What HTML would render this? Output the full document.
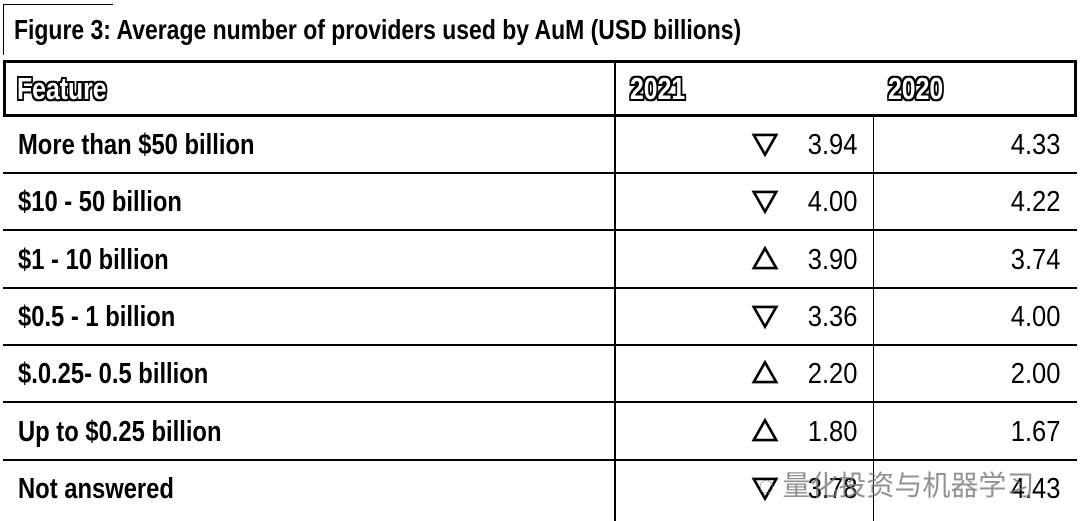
<!DOCTYPE html>
<html><head><meta charset="utf-8"><style>
body{margin:0;width:1080px;height:521px;background:#fff;overflow:hidden;position:relative;font-family:"Liberation Sans Narrow","Liberation Sans","Noto Sans CJK SC",sans-serif;color:#000}
.a{position:absolute}
.t{white-space:nowrap;transform-origin:left center}
.hl{color:#fff;font-weight:bold;font-size:31px;text-shadow:2px 0 #000,-2px 0 #000,0 2px #000,0 -2px #000,2px 2px #000,-2px -2px #000,2px -2px #000,-2px 2px #000}
.lab{font-weight:bold;font-size:29px;left:18px}
.num{font-size:29px;text-align:right;transform-origin:right center}
.tri{font-size:26px;left:752px;font-weight:bold;-webkit-text-stroke:1.5px #000}
.hline{left:3px;width:1074px;height:2px;background:#000}
</style></head><body>
<div class="a" style="left:3px;top:5px;width:1px;height:50px;background:#000"></div>
<div class="a" style="left:3px;top:4px;width:110px;height:1px;background:#000"></div>
<div class="a t" style="left:14px;top:14px;font-size:28px;font-weight:bold;transform:scaleX(0.82)">Figure 3: Average number of providers used by AuM (USD billions)</div>
<div class="a" style="left:3px;top:60px;width:1068px;height:51px;border:3px solid #000"></div>
<div class="a" style="left:614px;top:63px;width:2px;height:458px;background:#000"></div>
<div class="a" style="left:873px;top:114px;width:1px;height:407px;background:#000"></div>
<div class="a t hl" style="left:17px;top:71px;transform:scaleX(0.8)">Feature</div>
<div class="a t hl" style="left:630px;top:71px;transform:scaleX(0.8)">2021</div>
<div class="a t hl" style="left:888px;top:71px;transform:scaleX(0.8)">2020</div>
<div id="rows"></div>
<div class="a t" style="left:758px;top:464px;font-size:28px;color:#777;opacity:0.8">◌ 量化投资与机器学习</div>
<script>
const categories=["More than $50 billion","$10 - 50 billion","$1 - 10 billion","$0.5 - 1 billion","$.0.25- 0.5 billion","Up to $0.25 billion","Not answered"];
const values2021=[3.94,4.00,3.90,3.36,2.20,1.80,3.78];
const values2020=[4.33,4.22,3.74,4.00,2.00,1.67,4.43];
const R=document.getElementById('rows');
function mk(cls,style,txt,name){const d=document.createElement('div');d.className=cls;d.setAttribute('style',style);d.textContent=txt;


R.appendChild(d);return d;}
categories.forEach((c,i)=>{
  const top=116+i*57.3;
  mk('a t lab','top:'+(top+13)+'px;transform:scaleX(0.82)',c,'row-label');
  const up=values2021[i]>values2020[i];
  mk('a tri','top:'+(top+9)+'px',up?'△':'▽',up?'trend-up-icon':'trend-down-icon');
  mk('a t num','right:'+(1080-857)+'px;top:'+(top+13)+'px;transform:scaleX(0.88)',values2021[i].toFixed(2),'value-2021');
  mk('a t num','right:'+(1080-1060)+'px;top:'+(top+13)+'px;transform:scaleX(0.88)',values2020[i].toFixed(2),'value-2020');
  if(i<categories.length-1) mk('a hline','top:'+(top+56)+'px','','row-separator');
});
</script>
</body></html>
